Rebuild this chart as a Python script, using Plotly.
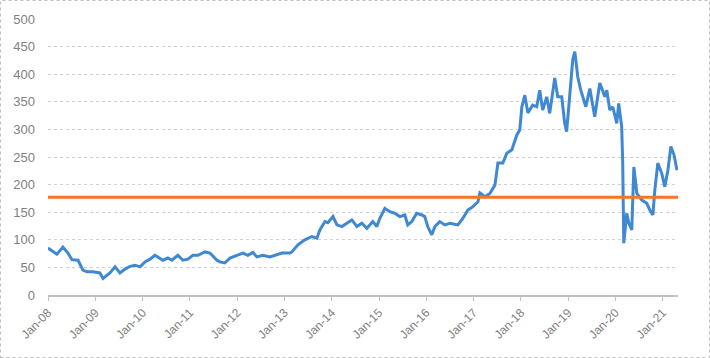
import plotly.graph_objects as go

dates = [
    "2008-01-01", "2008-02-01", "2008-03-10", "2008-04-25", "2008-06-03", "2008-07-04",
    "2008-08-20", "2008-09-27", "2008-10-28", "2008-12-14", "2009-02-05", "2009-03-01",
    "2009-04-23", "2009-06-02", "2009-07-10", "2009-08-18", "2009-09-26", "2009-11-03",
    "2009-12-12", "2010-01-19", "2010-02-27", "2010-04-06", "2010-04-29", "2010-06-07",
    "2010-07-15", "2010-08-15", "2010-09-30", "2010-11-08", "2010-12-17", "2011-01-24",
    "2011-03-04", "2011-04-27", "2011-06-05", "2011-06-20", "2011-07-29", "2011-08-20",
    "2011-09-28", "2011-11-06", "2011-12-30", "2012-02-14", "2012-03-24", "2012-05-02",
    "2012-06-02", "2012-07-18", "2012-09-10", "2012-10-19", "2012-12-12", "2013-02-12",
    "2013-02-27", "2013-04-14", "2013-06-07", "2013-07-31", "2013-09-08", "2013-10-01",
    "2013-11-09", "2013-12-02", "2014-01-10", "2014-02-10", "2014-03-20", "2014-04-27",
    "2014-06-05", "2014-07-14", "2014-08-21", "2014-09-29", "2014-11-14", "2014-12-15",
    "2015-01-07", "2015-02-15", "2015-03-25", "2015-05-03", "2015-06-11", "2015-07-19",
    "2015-08-11", "2015-09-11", "2015-10-19", "2015-11-27", "2015-12-20", "2016-01-12",
    "2016-02-12", "2016-03-07", "2016-04-14", "2016-05-23", "2016-07-01", "2016-09-01",
    "2016-10-10", "2016-11-17", "2016-12-26", "2017-02-03", "2017-02-18", "2017-03-28",
    "2017-05-06", "2017-06-14", "2017-07-07", "2017-08-14", "2017-09-14", "2017-10-23",
    "2017-11-30", "2017-12-23", "2018-01-08", "2018-01-31", "2018-02-23", "2018-04-02",
    "2018-05-03", "2018-05-26", "2018-06-18", "2018-07-19", "2018-08-11", "2018-09-19",
    "2018-10-12", "2018-11-12", "2018-12-05", "2018-12-20", "2019-01-13", "2019-02-05",
    "2019-02-21", "2019-03-16", "2019-04-08", "2019-05-17", "2019-06-17", "2019-07-25",
    "2019-09-02", "2019-10-11", "2019-10-26", "2019-11-18", "2019-12-11", "2020-01-11",
    "2020-01-26", "2020-02-18", "2020-02-26", "2020-03-05", "2020-03-28", "2020-04-13",
    "2020-05-06", "2020-05-22", "2020-06-14", "2020-07-23", "2020-08-30", "2020-09-22",
    "2020-10-16", "2020-10-31", "2020-11-23", "2020-12-24", "2021-01-16", "2021-02-09",
    "2021-03-04", "2021-03-28", "2021-04-20",
]

values = [
    85, 80, 74, 87, 76, 64,
    63, 45, 42, 42, 40, 30,
    40, 51, 40, 47, 52, 54,
    51, 60, 65, 72, 69, 63,
    67, 63, 72, 63, 65, 72,
    72, 78, 76, 72, 63, 60,
    58, 67, 72, 76, 72, 77,
    69, 72, 69, 72, 76, 76,
    78, 91, 100, 106, 103, 118,
    133, 131, 142, 127, 124, 130,
    136, 124, 130, 121, 133, 124,
    139, 157, 151, 148, 142, 145,
    127, 133, 148, 145, 142, 124,
    109, 124, 133, 127, 130, 127,
    139, 154, 160, 169, 185, 178,
    184, 199, 239, 239, 257, 263,
    290, 299, 341, 362, 330, 344,
    341, 371, 335, 359, 329, 393,
    359, 359, 311, 296, 359, 426,
    441, 395, 371, 341, 374, 323,
    384, 359, 371, 335, 341, 311,
    347, 305, 239, 94, 148, 130,
    118, 232, 184, 172, 166, 154,
    145, 190, 239, 220, 196, 226,
    269, 254, 226,
]

threshold = 177
y_ticks = [0, 50, 100, 150, 200, 250, 300, 350, 400, 450, 500]

fig = go.Figure()
fig.add_trace(go.Scatter(
    x=dates, y=values, mode="lines",
    line=dict(color="#3F88D2", width=3), showlegend=False,
))
fig.add_trace(go.Scatter(
    x=[dates[0], "2021-04-28"], y=[threshold, threshold], mode="lines",
    line=dict(color="#F4762A", width=3), showlegend=False,
))

W, H = 710, 358
L, R, T, B = 48, 32, 19, 63
pw, ph = W - L - R, H - T - B

fig.update_layout(
    width=W, height=H,
    margin=dict(l=L, r=R, t=T, b=B),
    paper_bgcolor="white", plot_bgcolor="white",
    font=dict(family="Liberation Sans, Arial, sans-serif", size=13, color="#7F7F7F"),
    xaxis=dict(
        type="date", range=["2008-01-01", "2021-04-28"],
        tick0="2008-01-01", dtick="M12", tickformat="%b-%y", tickangle=-45,
        showgrid=False, showline=True, linecolor="#BFBFBF", linewidth=2,
        ticks="outside", ticklen=4, tickcolor="#BFBFBF",
        tickfont=dict(size=12, color="#7F7F7F"),
    ),
    yaxis=dict(
        range=[0, 500], tickvals=y_ticks, showgrid=True,
        gridcolor="#D0D0D0", griddash="dot", gridwidth=1,
        zeroline=False, showline=False, ticks="", ticklabelstandoff=12,
        tickfont=dict(size=13, color="#7F7F7F"),
    ),
    shapes=[dict(
        type="rect", xref="paper", yref="paper",
        x0=(0.5 - L) / pw, x1=(W - 0.5 - L) / pw,
        y0=-(B - 0.5) / ph, y1=(H - B - 0.5) / ph + (T) / ph * 0 + (T - 0.5) / ph * 0 + 0,
        line=dict(color="#BFBFBF", width=1, dash="dot"),
    )],
)
# correct top of border to figure top
fig.layout.shapes[0].y1 = (ph + T - 0.5) / ph

fig.write_html("out.html")
